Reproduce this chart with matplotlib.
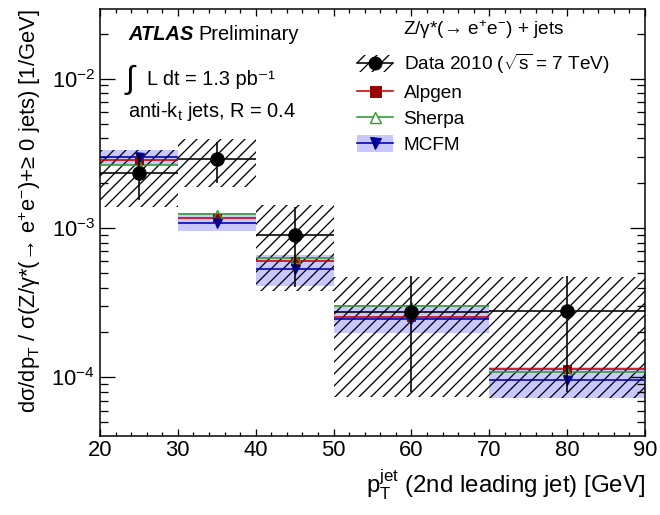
import numpy as np
import matplotlib
matplotlib.use("Agg")
import matplotlib.pyplot as plt
from matplotlib.patches import Patch
from matplotlib.lines import Line2D
from matplotlib.ticker import LogLocator, MultipleLocator, NullFormatter

plt.rcParams['font.family'] = ['Liberation Sans', 'DejaVu Sans']
plt.rcParams['mathtext.fontset'] = 'custom'
plt.rcParams['mathtext.rm'] = 'Liberation Sans'
plt.rcParams['mathtext.it'] = 'Liberation Sans:italic'
plt.rcParams['mathtext.bf'] = 'Liberation Sans:bold'
plt.rcParams['mathtext.default'] = 'regular'
plt.rcParams['hatch.linewidth'] = 1.3
plt.rcParams['hatch.color'] = 'black'

# bins of the 2nd leading jet pT [GeV]
bin_edges = np.array([20, 30, 40, 50, 70, 90])

# data (1/GeV)
data_val = [2.33e-3, 2.90e-3, 8.98e-4, 2.74e-4, 2.78e-4]
data_err_lo = [1.54e-3, 2.00e-3, 4.03e-4, 8.0e-5, 8.0e-5]   # lower end of stat. bar
data_err_hi = [3.18e-3, 3.76e-3, 1.38e-3, 4.77e-4, 4.77e-4]  # upper end of stat. bar
syst_lo = [1.38e-3, 1.88e-3, 3.79e-4, 7.4e-5, 7.3e-5]
syst_hi = [3.33e-3, 3.94e-3, 1.43e-3, 4.7e-4, 4.7e-4]

# predictions
alpgen = [2.85e-3, 1.17e-3, 6.0e-4, 2.52e-4, 1.14e-4]
sherpa = [2.64e-3, 1.24e-3, 6.3e-4, 3.0e-4, 1.09e-4]
mcfm = [2.99e-3, 1.08e-3, 5.32e-4, 2.46e-4, 9.6e-5]
mcfm_lo = [2.64e-3, 0.955e-3, 4.09e-4, 1.99e-4, 7.3e-5]
mcfm_hi = [3.33e-3, 1.26e-3, 6.6e-4, 3.06e-4, 1.18e-4]

lefts = bin_edges[:-1]
rights = bin_edges[1:]
widths = rights - lefts
centers = 0.5 * (lefts + rights)

c_alp_line, c_alp_mk = '#cc0000', '#990000'
c_she = '#2f9a2f'
c_mc_line, c_mc_mk = '#0000b0', '#000099'
c_band = '#c8c8ff'

W, H = 660, 515
fig = plt.figure(figsize=(W / 72, H / 72), dpi=72)
ax = fig.add_axes([100 / W, (H - 436) / H, 545 / W, 427 / H])


def px(x, y):
    return x / W, 1 - y / H


# MCFM uncertainty band
ax.bar(lefts, np.subtract(mcfm_hi, mcfm_lo), bottom=mcfm_lo, width=widths,
       align='edge', color=c_band, lw=0, zorder=1)
# data systematic uncertainty (hatched)
ax.bar(lefts, np.subtract(syst_hi, syst_lo), bottom=syst_lo, width=widths,
       align='edge', facecolor='none', edgecolor='black', lw=0, hatch='//', zorder=2)

# prediction lines + markers
ax.hlines(sherpa, lefts, rights, color=c_she, lw=1.6, zorder=3)
ax.hlines(alpgen, lefts, rights, color=c_alp_line, lw=1.6, zorder=3)
ax.hlines(mcfm, lefts, rights, color=c_mc_line, lw=1.6, zorder=3)
ax.plot(centers, alpgen, 's', color=c_alp_mk, ms=8, zorder=4)
ax.plot(centers, sherpa, '^', mfc='none', mec=c_she, mew=1.4, ms=9, zorder=4)
ax.plot(centers, mcfm, 'v', color=c_mc_mk, ms=9, zorder=4)

# data
yerr = [np.subtract(data_val, data_err_lo), np.subtract(data_err_hi, data_val)]
ax.errorbar(centers, data_val, xerr=widths / 2, yerr=yerr, fmt='o', color='black',
            ms=13.5, elinewidth=1.6, capsize=0, zorder=5)

ax.set_yscale('log')
ax.set_xlim(20, 90)
ax.set_ylim(4.06e-5, 2.92e-2)
ax.xaxis.set_major_locator(MultipleLocator(10))
ax.xaxis.set_minor_locator(MultipleLocator(2))
ax.yaxis.set_major_locator(LogLocator(base=10))
ax.yaxis.set_minor_locator(LogLocator(base=10, subs=np.arange(2, 10)))
ax.yaxis.set_minor_formatter(NullFormatter())
ax.tick_params(which='both', direction='in', top=True, right=True, width=1.3)
ax.tick_params(axis='y', which='major', length=15, labelsize=22, pad=5)
ax.tick_params(axis='y', which='minor', length=8)
ax.tick_params(axis='x', which='major', length=7, labelsize=22, pad=4)
ax.tick_params(axis='x', which='minor', length=4)
for s in ax.spines.values():
    s.set_linewidth(1.5)

ax.set_xlabel(r'p$_T^{jet}$ (2nd leading jet) [GeV]', fontsize=24, loc='right', labelpad=6)
ax.set_ylabel(r'dσ/dp$_T$ / σ(Z/γ*(→ $e^{+}e^{-}$)+≥ 0 jets) [1/GeV]',
              fontsize=22, loc='top', labelpad=8)

# labels
t_atlas = fig.text(*px(128, 40), 'ATLAS', fontsize=20, fontweight='bold',
                   fontstyle='italic', va='baseline')
ax.annotate('Preliminary', xy=(1, 0), xycoords=t_atlas, xytext=(5, 0),
            textcoords='offset points', fontsize=20, va='bottom')
fig.text(*px(126, 88), '∫', fontsize=32, va='baseline')
fig.text(*px(147, 85), 'L dt = 1.3 pb⁻¹', fontsize=20, va='baseline')
fig.text(*px(128, 117), 'anti-k$_t$ jets, R = 0.4', fontsize=20, va='baseline')
fig.text(*px(403, 35), r'Z/γ*(→ $e^{+}e^{-}$) + jets', fontsize=19, va='baseline')

h_data = (Patch(facecolor='none', edgecolor='black', lw=0, hatch='//'),
          Line2D([], [], color='black', marker='o', ms=13, lw=1.6))
h_alp = Line2D([], [], color=c_alp_line, marker='s', mfc=c_alp_mk, mec=c_alp_mk, ms=11, lw=1.6)
h_she = Line2D([], [], color=c_she, marker='^', mfc='white', mec=c_she, mew=1.4, ms=11, lw=1.6)
h_mc = (Patch(facecolor=c_band, edgecolor='none'),
        Line2D([], [], color=c_mc_line, marker='v', mfc=c_mc_mk, mec=c_mc_mk, ms=11, lw=1.6))
fig.legend([h_data, h_alp, h_she, h_mc],
           [r'Data 2010 ($\sqrt{s}$ = 7 TeV)', 'Alpgen', 'Sherpa', 'MCFM'],
           loc='upper left', bbox_to_anchor=px(357, 52), frameon=False, fontsize=19,
           borderpad=0, borderaxespad=0, handlelength=1.9, handleheight=1.0,
           handletextpad=0.55, labelspacing=0.37)

fig.savefig('out.png', dpi=72)
